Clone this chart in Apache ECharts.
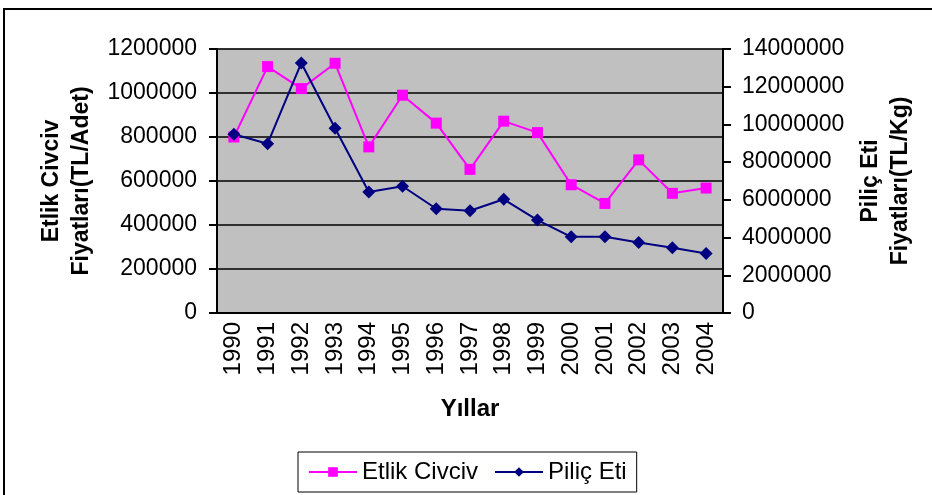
<!DOCTYPE html>
<html>
<head>
<meta charset="utf-8">
<script src="https://cdn.jsdelivr.net/npm/echarts@6/dist/echarts.min.js"></script>
<style>
  html, body { margin: 0; padding: 0; background: #fff; }
  #chart { width: 932px; height: 495px; }
</style>
</head>
<body>
<div id="chart"></div>
<script>
const years = ['1990', '1991', '1992', '1993', '1994', '1995', '1996', '1997',
  '1998', '1999', '2000', '2001', '2002', '2003', '2004']
// TL/Adet, left axis
const etlikCivciv = [800000, 1120000, 1020000, 1135000, 755000, 990000, 863000, 653000,
  872000, 820000, 583000, 498000, 696000, 544000, 568000]
// TL/Kg, right axis
const pilicEti = [9480000, 8980000, 13260000, 9800000, 6420000, 6720000, 5530000, 5420000,
  6030000, 4930000, 4040000, 4040000, 3740000, 3460000, 3150000]

const FONT = 'Liberation Sans, Arial, sans-serif'
const plain = v => String(v)

const myChart = echarts.init(document.getElementById('chart'))

myChart.setOption({
  animation: false,
  textStyle: { fontFamily: FONT, color: '#000' },
  graphic: [{
    type: 'rect',
    shape: { x: 4, y: 9, width: 1000, height: 1000 },
    style: { fill: 'none', stroke: '#000', lineWidth: 2 },
    silent: true
  }],
  grid: {
    left: 217, right: 209, top: 49, height: 264,
    show: true,
    backgroundColor: '#c0c0c0',
    borderColor: '#808080',
    borderWidth: 1
  },
  legend: {
    left: 298, top: 452,
    backgroundColor: '#fff',
    borderColor: '#000',
    borderWidth: 1,
    padding: [8, 10, 8, 10],
    itemGap: 16,
    itemWidth: 48,
    itemHeight: 12,
    textStyle: { fontFamily: FONT, fontSize: 24, color: '#000' },
    data: ['Etlik Civciv', 'Piliç Eti']
  },
  xAxis: {
    type: 'category',
    data: years,
    boundaryGap: true,
    name: 'Yıllar',
    nameLocation: 'middle',
    nameGap: 84,
    nameTextStyle: { fontFamily: FONT, fontSize: 24, fontWeight: 'bold', color: '#000' },
    axisLine: { lineStyle: { color: '#000', width: 2 } },
    axisTick: { length: 7, lineStyle: { color: '#000', width: 2 } },
    axisLabel: { rotate: 90, margin: 9, fontSize: 24, color: '#000', fontFamily: FONT }
  },
  yAxis: [{
    type: 'value',
    min: 0, max: 1200000, interval: 200000,
    name: 'Etlik Civciv\nFiyatları(TL/Adet)',
    nameLocation: 'middle',
    nameGap: 108,
    nameTextStyle: { fontFamily: FONT, fontSize: 23, fontWeight: 'bold', color: '#000', lineHeight: 30 },
    axisLine: { show: true, lineStyle: { color: '#000', width: 2 } },
    axisTick: { show: true, length: 8, lineStyle: { color: '#000', width: 2 } },
    axisLabel: { margin: 20, fontSize: 23, color: '#000', fontFamily: FONT, formatter: plain },
    splitLine: { lineStyle: { color: '#000', width: 1.5 } }
  }, {
    type: 'value',
    position: 'right',
    min: 0, max: 14000000, interval: 2000000,
    name: 'Piliç Eti\nFiyatları(TL/Kg)',
    nameLocation: 'middle',
    nameGap: 125,
    nameTextStyle: { fontFamily: FONT, fontSize: 23, fontWeight: 'bold', color: '#000', lineHeight: 30 },
    axisLine: { show: true, lineStyle: { color: '#000', width: 2 } },
    axisTick: { show: true, length: 8, lineStyle: { color: '#000', width: 2 } },
    axisLabel: { margin: 19, fontSize: 23, color: '#000', fontFamily: FONT, formatter: plain },
    splitLine: { show: false }
  }],
  series: [{
    name: 'Etlik Civciv',
    type: 'line',
    yAxisIndex: 0,
    data: etlikCivciv,
    symbol: 'rect',
    symbolSize: 11,
    color: '#ff00ff',
    lineStyle: { color: '#ff00ff', width: 2 },
    itemStyle: { color: '#ff00ff' }
  }, {
    name: 'Piliç Eti',
    type: 'line',
    yAxisIndex: 1,
    data: pilicEti,
    symbol: 'diamond',
    symbolSize: 13,
    color: '#000080',
    lineStyle: { color: '#000080', width: 2 },
    itemStyle: { color: '#000080' }
  }]
})
</script>
</body>
</html>
